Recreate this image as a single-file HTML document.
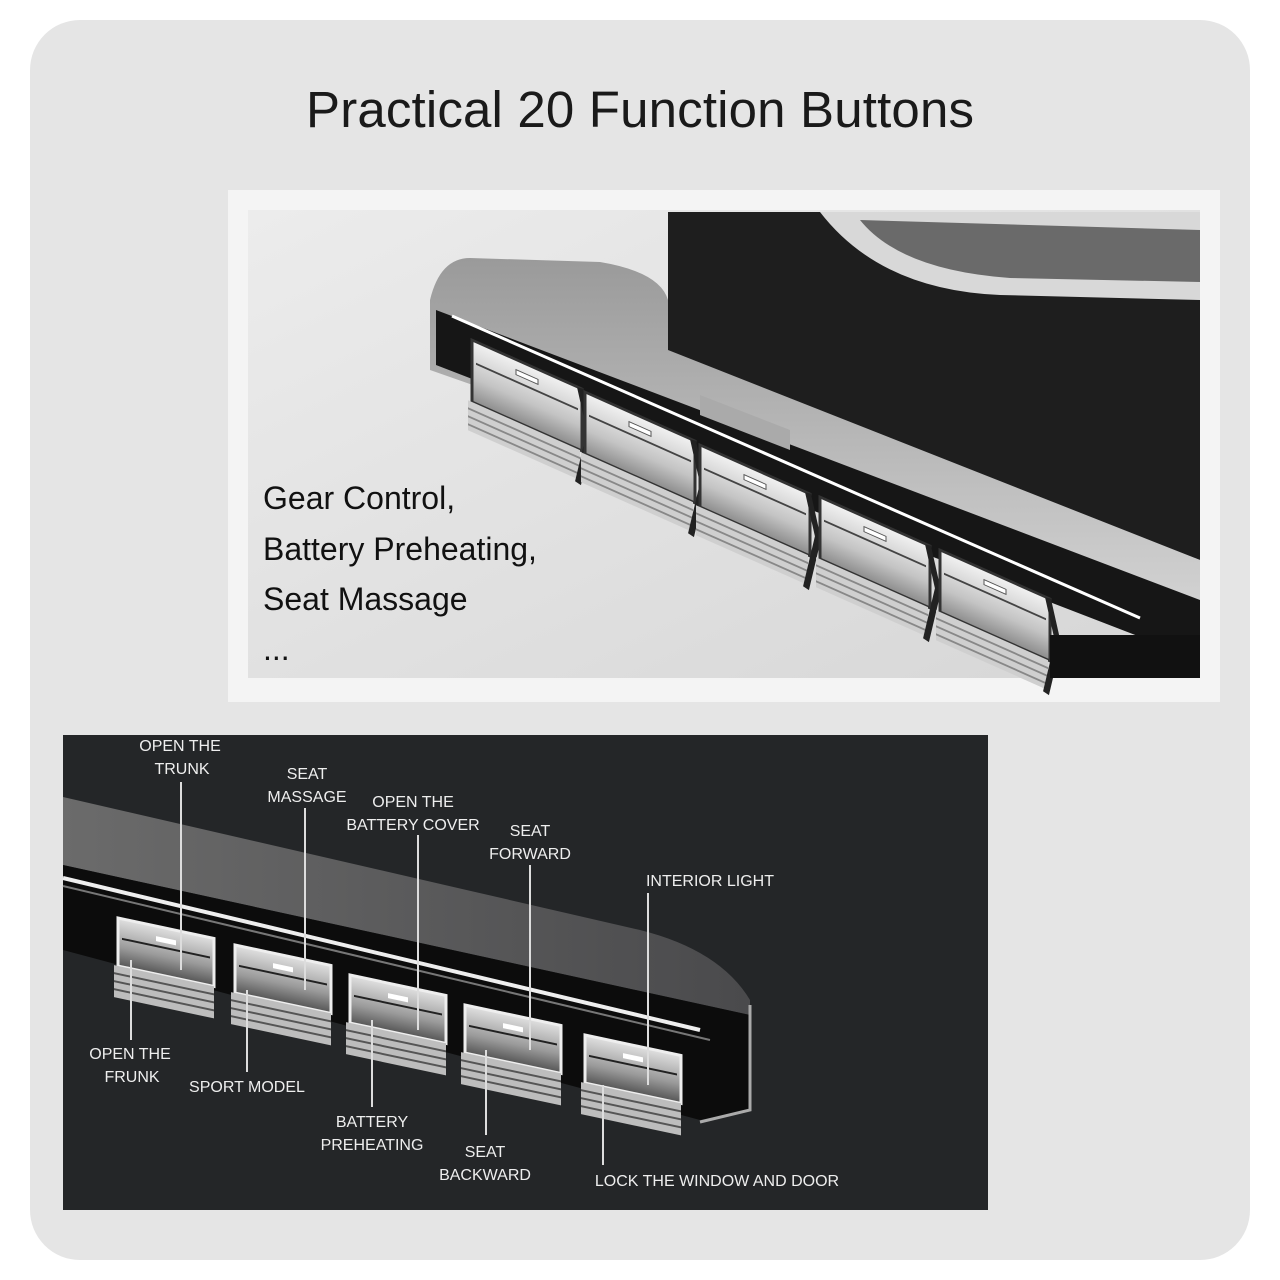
<!DOCTYPE html>
<html><head><meta charset="utf-8"><style>
html,body{margin:0;padding:0;background:#fff;width:1280px;height:1280px;overflow:hidden}
</style></head><body>
<svg width="1280" height="1280" viewBox="0 0 1280 1280" xmlns="http://www.w3.org/2000/svg">
<defs>
<linearGradient id="bgTop" x1="0" y1="0" x2="1" y2="1"><stop offset="0" stop-color="#ececec"/><stop offset="1" stop-color="#d6d6d6"/></linearGradient>
<linearGradient id="btn" x1="0" y1="0" x2="0" y2="1"><stop offset="0" stop-color="#f2f2f2"/><stop offset="0.6" stop-color="#c4c4c4"/><stop offset="1" stop-color="#8c8c8c"/></linearGradient>
<linearGradient id="btnD" x1="0" y1="0" x2="0" y2="1"><stop offset="0" stop-color="#e0e0e0"/><stop offset="0.6" stop-color="#9a9a9a"/><stop offset="1" stop-color="#555"/></linearGradient>
<linearGradient id="band" x1="0" y1="0" x2="1" y2="0"><stop offset="0" stop-color="#6b6b6b"/><stop offset="1" stop-color="#4a4a4c"/></linearGradient>
<linearGradient id="silver" x1="0" y1="0" x2="0" y2="1"><stop offset="0" stop-color="#9a9a9a"/><stop offset="1" stop-color="#d8d8d8"/></linearGradient>
<g id="b1">
 <rect x="0" y="0" width="110" height="62" fill="url(#btn)" stroke="#333" stroke-width="3"/>
 <rect x="44" y="10" width="22" height="5" fill="#fff" stroke="#555"/>
 <line x1="4" y1="22" x2="106" y2="22" stroke="#444" stroke-width="2"/>
 <rect x="-4" y="62" width="112" height="30" fill="#cfcfcf"/>
 <line x1="-4" y1="70" x2="108" y2="70" stroke="#888" stroke-width="2"/>
 <line x1="-4" y1="78" x2="108" y2="78" stroke="#888" stroke-width="2"/>
 <line x1="-4" y1="86" x2="108" y2="86" stroke="#888" stroke-width="2"/>
 <path d="M108 0 L118 40 L106 96" fill="none" stroke="#222" stroke-width="6"/>
</g>
<g id="b2">
 <rect x="0" y="0" width="96" height="48" fill="url(#btnD)" stroke="#eee" stroke-width="3"/>
 <rect x="38" y="10" width="20" height="5" fill="#fff"/>
 <line x1="4" y1="20" x2="92" y2="20" stroke="#222" stroke-width="2"/>
 <rect x="-4" y="48" width="100" height="32" fill="#bdbdbd"/>
 <line x1="-4" y1="56" x2="96" y2="56" stroke="#555" stroke-width="2"/>
 <line x1="-4" y1="64" x2="96" y2="64" stroke="#555" stroke-width="2"/>
 <line x1="-4" y1="72" x2="96" y2="72" stroke="#555" stroke-width="2"/>
</g>
</defs>
<rect width="1280" height="1280" fill="#fff"/>
<rect x="30" y="20" width="1220" height="1240" rx="50" fill="#e5e5e5"/>
<text x="640" y="127" text-anchor="middle" font-family="Liberation Sans, sans-serif" font-size="51" fill="#1a1a1a" textLength="668">Practical 20 Function Buttons</text>

<!-- top image -->
<rect x="228" y="190" width="992" height="512" fill="#f4f4f4"/>
<rect x="248" y="210" width="952" height="468" fill="url(#bgTop)"/>
<path d="M668 212 L1200 212 L1200 560 L668 360 Z" fill="#1e1e1e"/>
<path d="M820 212 Q880 290 1000 295 L1200 300 L1200 212 Z" fill="#d8d8d8"/>
<path d="M860 220 Q900 270 1010 278 L1200 282 L1200 230 Z" fill="#6a6a6a"/>
<path d="M430 300 Q440 258 470 258 L600 262 Q660 272 668 300 L668 350 L1200 560 L1200 640 L430 370 Z" fill="url(#silver)"/>
<path d="M436 310 L1200 600 L1200 660 L436 365 Z" fill="#161616"/>
<line x1="452" y1="316" x2="1140" y2="618" stroke="#fff" stroke-width="3"/>
<path d="M700 395 L790 430 L790 450 L700 415 Z" fill="#aaa"/>
<g transform="translate(472,340) skewY(24)"><use href="#b1"/></g>
<g transform="translate(585,392) skewY(24)"><use href="#b1"/></g>
<g transform="translate(700,445) skewY(24)"><use href="#b1"/></g>
<g transform="translate(820,497) skewY(24)"><use href="#b1"/></g>
<g transform="translate(940,550) skewY(24)"><use href="#b1"/></g>
<rect x="1050" y="635" width="150" height="43" fill="#111"/>
<g font-family="Liberation Sans, sans-serif" font-size="32" fill="#111">
<text x="263" y="509">Gear Control,</text>
<text x="263" y="560">Battery Preheating,</text>
<text x="263" y="610">Seat Massage</text>
<text x="263" y="660">...</text>
</g>

<!-- bottom image -->
<rect x="63" y="735" width="925" height="475" fill="#242628"/>
<path d="M63 797 L640 930 Q720 950 750 1000 L750 1015 L63 865 Z" fill="url(#band)"/>
<path d="M63 865 L750 1015 L750 1110 L700 1120 L63 950 Z" fill="#0c0c0c"/>
<path d="M63 878 L700 1030" stroke="#eee" stroke-width="4" fill="none"/>
<path d="M63 886 L710 1040" stroke="#777" stroke-width="2" fill="none"/>
<path d="M750 1005 L750 1110 L700 1122" stroke="#aaa" stroke-width="3" fill="none"/>
<g transform="translate(118,918) skewY(12)"><use href="#b2"/></g>
<g transform="translate(235,945) skewY(12)"><use href="#b2"/></g>
<g transform="translate(350,975) skewY(12)"><use href="#b2"/></g>
<g transform="translate(465,1005) skewY(12)"><use href="#b2"/></g>
<g transform="translate(585,1035) skewY(12)"><use href="#b2"/></g>
<g stroke="#ddd" stroke-width="2">
<line x1="181" y1="782" x2="181" y2="970"/>
<line x1="305" y1="808" x2="305" y2="990"/>
<line x1="418" y1="835" x2="418" y2="1030"/>
<line x1="530" y1="865" x2="530" y2="1050"/>
<line x1="648" y1="893" x2="648" y2="1085"/>
<line x1="131" y1="960" x2="131" y2="1040"/>
<line x1="247" y1="990" x2="247" y2="1072"/>
<line x1="372" y1="1020" x2="372" y2="1107"/>
<line x1="486" y1="1050" x2="486" y2="1135"/>
<line x1="603" y1="1085" x2="603" y2="1165"/>
</g>
<g font-family="Liberation Sans Narrow, Liberation Sans, sans-serif" font-size="16" fill="#eee" text-anchor="middle">
<text x="180" y="751">OPEN THE</text><text x="182" y="774">TRUNK</text>
<text x="307" y="779">SEAT</text><text x="307" y="802">MASSAGE</text>
<text x="413" y="807">OPEN THE</text><text x="413" y="830">BATTERY COVER</text>
<text x="530" y="836">SEAT</text><text x="530" y="859">FORWARD</text>
<text x="710" y="886">INTERIOR LIGHT</text>
<text x="130" y="1059">OPEN THE</text><text x="132" y="1082">FRUNK</text>
<text x="247" y="1092">SPORT MODEL</text>
<text x="372" y="1127">BATTERY</text><text x="372" y="1150">PREHEATING</text>
<text x="485" y="1157">SEAT</text><text x="485" y="1180">BACKWARD</text>
<text x="717" y="1186">LOCK THE WINDOW AND DOOR</text>
</g>
</svg>
</body></html>
